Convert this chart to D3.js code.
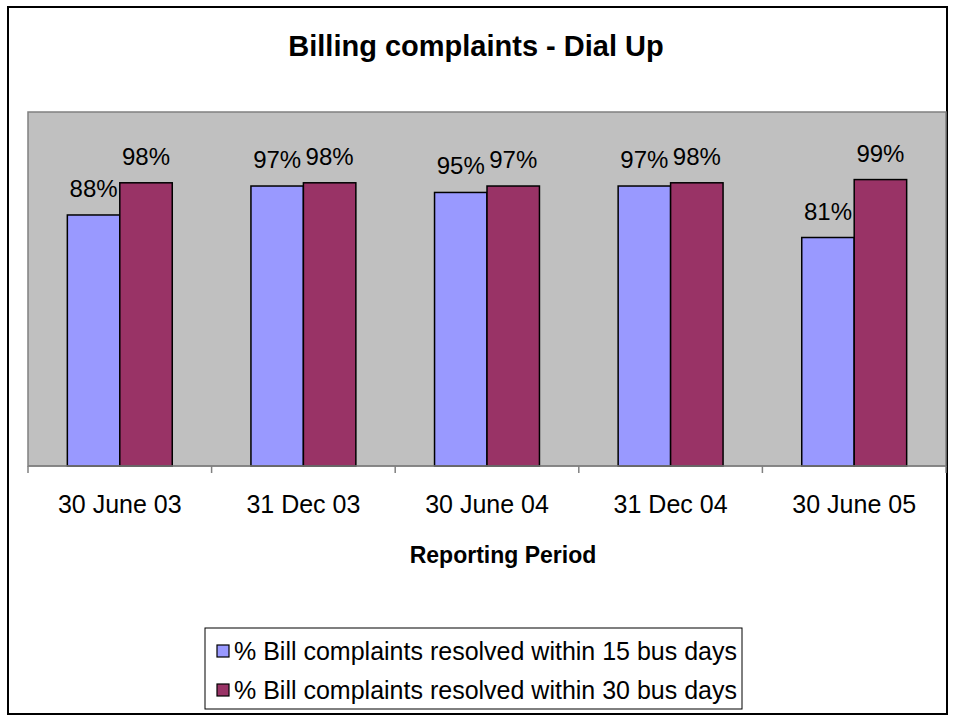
<!DOCTYPE html>
<html>
<head>
<meta charset="utf-8">
<script src="https://cdn.jsdelivr.net/npm/d3@7"></script>
<style>
  html, body { margin: 0; padding: 0; background: #fff; }
  svg { display: block; }
  text { font-family: "Liberation Sans", Arial, sans-serif; fill: #000; }
</style>
</head>
<body>
<svg id="chart" width="953" height="721"></svg>
<script>
const categories = ["30 June 03", "31 Dec 03", "30 June 04", "31 Dec 04", "30 June 05"];
const seriesNames = [
  "% Bill complaints resolved within 15 bus days",
  "% Bill complaints resolved within 30 bus days"
];
const within15 = [88, 97, 95, 97, 81];
const within30 = [98, 98, 97, 98, 99];
const seriesColors = ["#9999FF", "#993366"];
const titleText = "Billing complaints - Dial Up";
const xAxisTitle = "Reporting Period";
const yDomain = [10, 120];

const svg = d3.select("#chart");

// outer frame
svg.append("rect").attr("x", 8).attr("y", 7).attr("width", 939).attr("height", 707)
  .attr("fill", "#fff").attr("stroke", "#000").attr("stroke-width", 2);

// title
svg.append("text").attr("x", 476).attr("y", 56).attr("text-anchor", "middle")
  .attr("font-size", 29).attr("font-weight", "bold").text(titleText);

const plot = { left: 28, right: 946, top: 112, bottom: 466 };

const x = d3.scaleBand().domain(categories).range([plot.left, plot.right]).paddingInner(0).paddingOuter(0);
const bw = x.bandwidth();
const barW = bw / 3.5;
const x1 = d3.scaleBand().domain([0, 1]).range([0.75 * barW, 2.75 * barW]);
const y = d3.scaleLinear().domain(yDomain).range([plot.bottom, plot.top]);

svg.append("rect").attr("x", plot.left).attr("y", plot.top)
  .attr("width", plot.right - plot.left).attr("height", plot.bottom - plot.top)
  .attr("fill", "#C0C0C0").attr("stroke", "#808080").attr("stroke-width", 1.5);

const series = [within15, within30];
series.forEach((vals, si) => {
  const g = svg.append("g");
  g.selectAll("rect").data(vals).join("rect")
    .attr("x", (d, i) => x(categories[i]) + x1(si))
    .attr("y", d => y(d))
    .attr("width", x1.bandwidth())
    .attr("height", d => y(yDomain[0]) - y(d))
    .attr("fill", seriesColors[si])
    .attr("stroke", "#000").attr("stroke-width", 1.5);
  g.selectAll("text").data(vals).join("text")
    .attr("x", (d, i) => x(categories[i]) + x1(si) + x1.bandwidth() / 2)
    .attr("y", d => y(d) - 18)
    .attr("text-anchor", "middle")
    .attr("font-size", 24)
    .text(d => d + "%");
});

// x axis
const ax = svg.append("g").attr("transform", `translate(0,${plot.bottom})`);
ax.append("line").attr("x1", plot.left).attr("x2", plot.right).attr("y1", 0).attr("y2", 0)
  .attr("stroke", "#808080").attr("stroke-width", 1.5);
const tickPos = categories.map(c => x(c)).concat([plot.right]);
ax.selectAll("line.tick").data(tickPos).join("line").attr("class", "tick")
  .attr("x1", d => d).attr("x2", d => d).attr("y1", 0).attr("y2", 7)
  .attr("stroke", "#808080").attr("stroke-width", 1.5);
ax.selectAll("text.lab").data(categories).join("text").attr("class", "lab")
  .attr("x", d => x(d) + bw / 2).attr("y", 47)
  .attr("text-anchor", "middle").attr("font-size", 25).text(d => d);

svg.append("text").attr("x", 503).attr("y", 563).attr("text-anchor", "middle")
  .attr("font-size", 23).attr("font-weight", "bold").text(xAxisTitle);

// legend
const lg = svg.append("g");
lg.append("rect").attr("x", 205).attr("y", 628).attr("width", 537).attr("height", 81)
  .attr("fill", "#fff").attr("stroke", "#000").attr("stroke-width", 1);
seriesNames.forEach((n, i) => {
  const cy = 651 + i * 39;
  lg.append("rect").attr("x", 217).attr("y", cy - 6).attr("width", 12).attr("height", 12)
    .attr("fill", seriesColors[i]).attr("stroke", "#000").attr("stroke-width", 1.2);
  lg.append("text").attr("x", 234).attr("y", cy + 9).attr("font-size", 25).text(n);
});
</script>
</body>
</html>
